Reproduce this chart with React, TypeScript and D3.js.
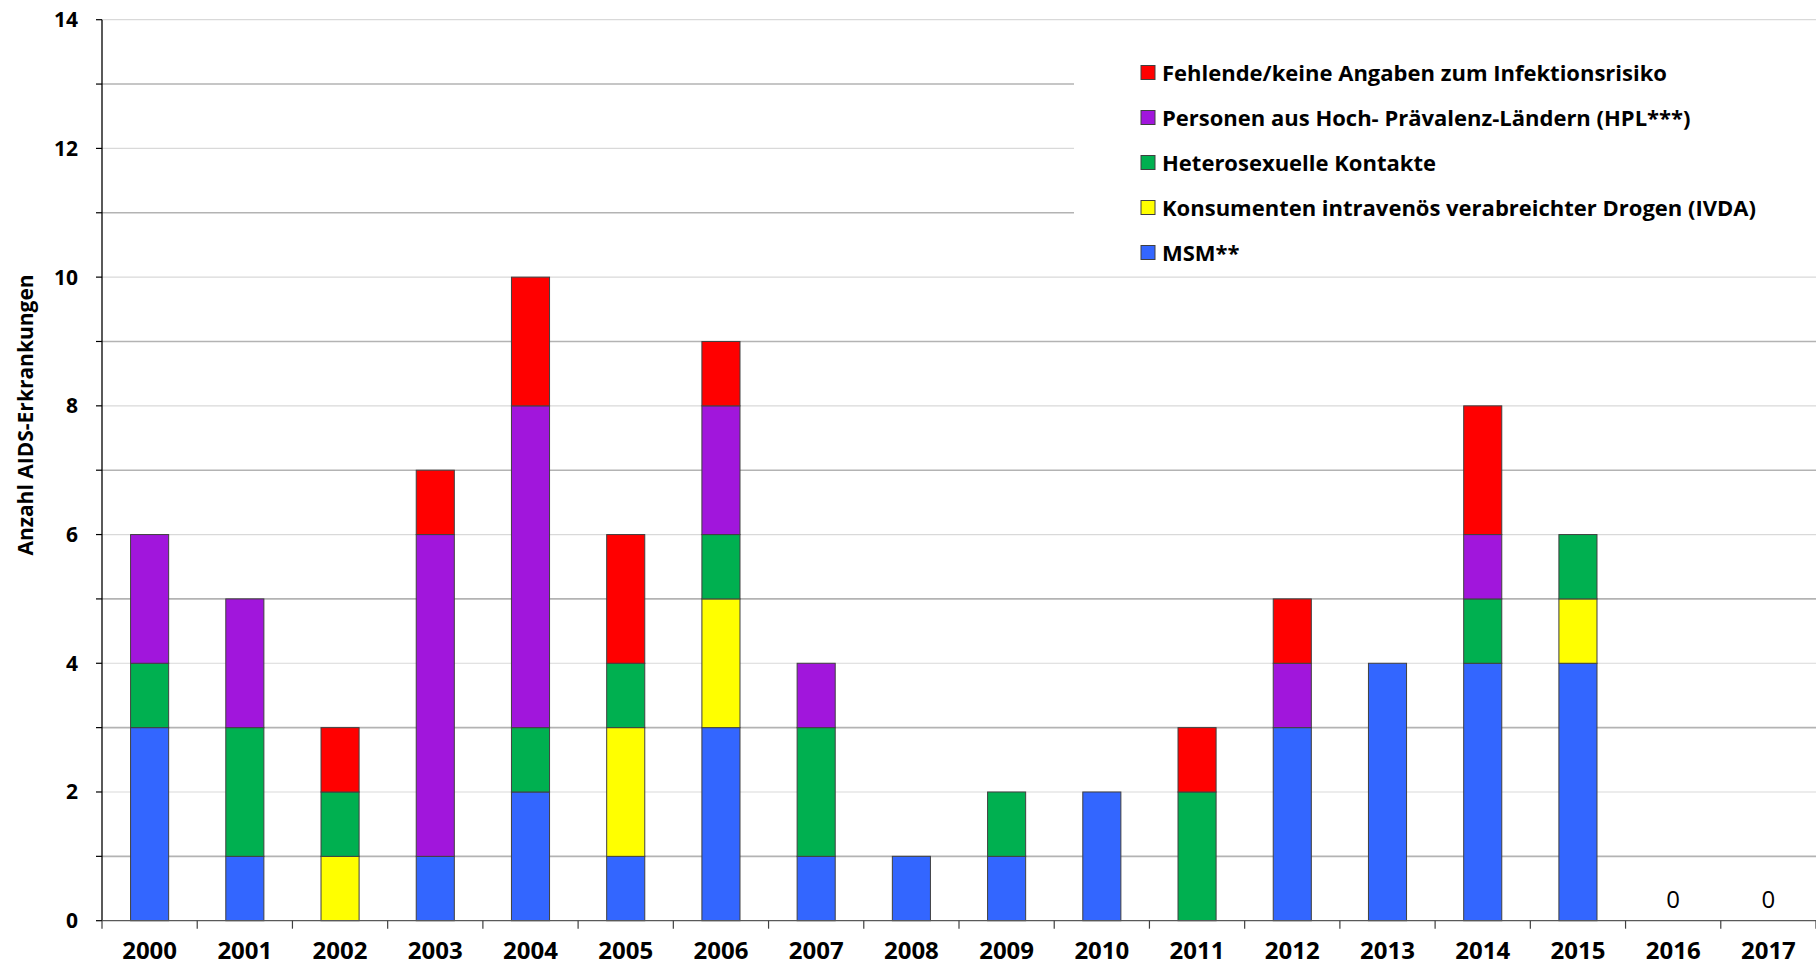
import { useRef, useEffect } from "react";
import * as d3 from "d3";

// Jahre der Diagnose
const years = ["2000", "2001", "2002", "2003", "2004", "2005", "2006", "2007", "2008",
  "2009", "2010", "2011", "2012", "2013", "2014", "2015", "2016", "2017"];

// Werte je Gruppe (von unten nach oben gestapelt)
const msm = [3, 1, 0, 1, 2, 1, 3, 1, 1, 1, 2, 0, 3, 4, 4, 4, 0, 0];
const ivda = [0, 0, 1, 0, 0, 2, 2, 0, 0, 0, 0, 0, 0, 0, 0, 1, 0, 0];
const hetero = [1, 2, 1, 0, 1, 1, 1, 2, 0, 1, 0, 2, 0, 0, 1, 1, 0, 0];
const hpl = [2, 2, 0, 5, 5, 0, 2, 1, 0, 0, 0, 0, 1, 0, 1, 0, 0, 0];
const fehlend = [0, 0, 1, 1, 2, 2, 1, 0, 0, 0, 0, 1, 1, 0, 2, 0, 0, 0];

const seriesKeys = ["msm", "ivda", "hetero", "hpl", "fehlend"];
const seriesLabels = {
  msm: "MSM**",
  ivda: "Konsumenten intravenös verabreichter Drogen (IVDA)",
  hetero: "Heterosexuelle Kontakte",
  hpl: "Personen aus Hoch- Prävalenz-Ländern (HPL***)",
  fehlend: "Fehlende/keine Angaben zum Infektionsrisiko",
};
const seriesColors = {
  msm: "#3366FF",
  ivda: "#FFFF00",
  hetero: "#00B050",
  hpl: "#A116DC",
  fehlend: "#FF0000",
};
// Reihenfolge in der Legende (oben -> unten)
const legendOrder = ["fehlend", "hpl", "hetero", "ivda", "msm"];

const yTicks = [0, 2, 4, 6, 8, 10, 12, 14];

const App = () => {
  const svgRef = useRef(null);

  useEffect(() => {
    document.body.style.margin = "0";
    const width = 1816;
    const height = 967;
    const left = 102;
    const right = 1816;
    const top = 19.7;
    const bottom = 920.7;
    const font = "'Open Sans', Lato, sans-serif";

    const svg = d3.select(svgRef.current);
    svg.selectAll("*").remove();
    svg.attr("width", width).attr("height", height);

    const table = years.map((y, i) => ({
      year: y,
      msm: msm[i],
      ivda: ivda[i],
      hetero: hetero[i],
      hpl: hpl[i],
      fehlend: fehlend[i],
    }));

    const x = d3.scaleBand().domain(years).range([left, right])
      .paddingInner(0.6).paddingOuter(0.3);
    const y = d3.scaleLinear().domain([0, 14]).range([bottom, top]);

    // Gitterlinien
    const gridVals = d3.range(1, 15);
    svg.append("g")
      .selectAll("line")
      .data(gridVals)
      .enter()
      .append("line")
      .attr("x1", left)
      .attr("x2", right)
      .attr("y1", (d) => y(d))
      .attr("y2", (d) => y(d))
      .attr("stroke", (d) => (d % 2 === 0 ? "#d9d9d9" : "#b3b3b3"))
      .attr("stroke-width", (d) => (d % 2 === 0 ? 1.2 : 1.6));

    // Legendenhintergrund
    svg.append("rect")
      .attr("x", 1074)
      .attr("y", 32)
      .attr("width", right - 1074)
      .attr("height", 242)
      .attr("fill", "#ffffff");

    // Balken
    const stack = d3.stack().keys(seriesKeys)(table);
    svg.append("g")
      .selectAll("g")
      .data(stack)
      .enter()
      .append("g")
      .attr("fill", (s) => seriesColors[s.key])
      .selectAll("rect")
      .data((s) => s.filter((d) => d[1] - d[0] > 0))
      .enter()
      .append("rect")
      .attr("x", (d) => x(d.data.year))
      .attr("y", (d) => y(d[1]))
      .attr("width", x.bandwidth())
      .attr("height", (d) => y(d[0]) - y(d[1]))
      .attr("stroke", "#404040")
      .attr("stroke-width", 1);

    // Null-Werte
    svg.append("g")
      .selectAll("text")
      .data(table.filter((d) => seriesKeys.every((k) => d[k] === 0)))
      .enter()
      .append("text")
      .attr("x", (d) => x(d.year) + x.bandwidth() / 2)
      .attr("y", y(0) - 13)
      .attr("text-anchor", "middle")
      .attr("font-family", font)
      .attr("font-size", 24)
      .attr("fill", "#000")
      .text("0");

    // Y-Achse
    svg.append("line")
      .attr("x1", left).attr("x2", left)
      .attr("y1", top).attr("y2", bottom)
      .attr("stroke", "#000").attr("stroke-width", 1.3);
    svg.append("g")
      .selectAll("line")
      .data(d3.range(0, 15))
      .enter()
      .append("line")
      .attr("x1", left - 6).attr("x2", left)
      .attr("y1", (d) => y(d)).attr("y2", (d) => y(d))
      .attr("stroke", "#000").attr("stroke-width", 1.2);
    svg.append("g")
      .selectAll("text")
      .data(yTicks)
      .enter()
      .append("text")
      .attr("x", 78)
      .attr("y", (d) => y(d) + 7.5)
      .attr("text-anchor", "end")
      .attr("font-family", font)
      .attr("font-weight", "bold")
      .attr("font-size", 21)
      .text((d) => d);

    svg.append("text")
      .attr("transform", `translate(33, ${(274 + 556) / 2}) rotate(-90)`)
      .attr("text-anchor", "middle")
      .attr("font-family", font)
      .attr("font-weight", "bold")
      .attr("font-size", 21)
      .text("Anzahl AIDS-Erkrankungen");

    // X-Achse
    svg.append("line")
      .attr("x1", left).attr("x2", right)
      .attr("y1", bottom).attr("y2", bottom)
      .attr("stroke", "#595959").attr("stroke-width", 1.3);
    const step = x.step();
    svg.append("g")
      .selectAll("line")
      .data(d3.range(0, years.length + 1))
      .enter()
      .append("line")
      .attr("x1", (i) => left + i * step).attr("x2", (i) => left + i * step)
      .attr("y1", bottom).attr("y2", bottom + 8)
      .attr("stroke", "#404040").attr("stroke-width", 1.2);
    svg.append("g")
      .selectAll("text")
      .data(years)
      .enter()
      .append("text")
      .attr("x", (d) => x(d) + x.bandwidth() / 2)
      .attr("y", 959)
      .attr("text-anchor", "middle")
      .attr("font-family", font)
      .attr("font-weight", "bold")
      .attr("font-size", 24)
      .text((d) => d);

    // Legende
    const legend = svg.append("g")
      .selectAll("g")
      .data(legendOrder)
      .enter()
      .append("g")
      .attr("transform", (d, i) => `translate(1141, ${73 + i * 45})`);
    legend.append("rect")
      .attr("x", 0).attr("y", -7.5)
      .attr("width", 14).attr("height", 14)
      .attr("fill", (d) => seriesColors[d])
      .attr("stroke", "#404040").attr("stroke-width", 1);
    legend.append("text")
      .attr("x", 21)
      .attr("y", 8)
      .attr("font-family", font)
      .attr("font-weight", "bold")
      .attr("font-size", 22)
      .text((d) => seriesLabels[d]);
  }, []);

  return <svg ref={svgRef} style={{ display: "block" }}></svg>;
};

export default App;
